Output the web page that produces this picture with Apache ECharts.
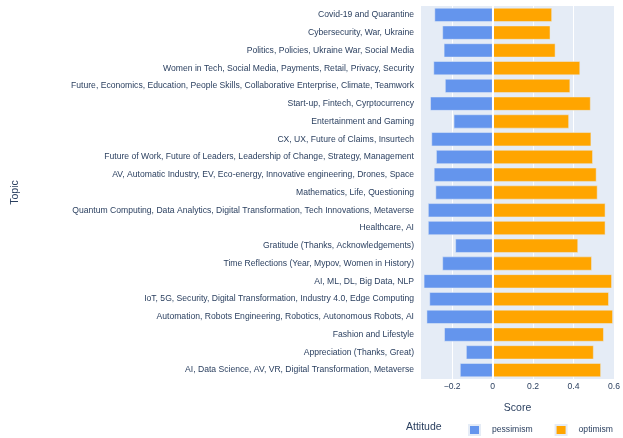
<!DOCTYPE html>
<html>
<head>
<meta charset="utf-8">
<script src="https://cdn.jsdelivr.net/npm/echarts@6/dist/echarts.min.js"></script>
<style>
  html, body { margin: 0; padding: 0; background: #fff; }
  #chart { width: 623px; height: 438px; }
</style>
</head>
<body>
<div id="chart"></div>
<script>
// topics, top to bottom as shown
const topics = [
  'Covid-19 and Quarantine',
  'Cybersecurity, War, Ukraine',
  'Politics, Policies, Ukraine War, Social Media',
  'Women in Tech, Social Media, Payments, Retail, Privacy, Security',
  'Future, Economics, Education, People Skills, Collaborative Enterprise, Climate, Teamwork',
  'Start-up, Fintech, Cyrptocurrency',
  'Entertainment and Gaming',
  'CX, UX, Future of Claims, Insurtech',
  'Future of Work, Future of Leaders, Leadership of Change, Strategy, Management',
  'AV, Automatic Industry, EV, Eco-energy, Innovative engineering, Drones, Space',
  'Mathematics, Life, Questioning',
  'Quantum Computing, Data Analytics, Digital Transformation, Tech Innovations, Metaverse',
  'Healthcare, AI',
  'Gratitude (Thanks, Acknowledgements)',
  'Time Reflections (Year, Mypov, Women in History)',
  'AI, ML, DL, Big Data, NLP',
  'IoT, 5G, Security, Digital Transformation, Industry 4.0, Edge Computing',
  'Automation, Robots Engineering, Robotics, Autonomous Robots, AI',
  'Fashion and Lifestyle',
  'Appreciation (Thanks, Great)',
  'AI, Data Science, AV, VR, Digital Transformation, Metaverse'
]

const pessimism = [
  -0.287, -0.248, -0.241, -0.292, -0.235, -0.308, -0.192, -0.302, -0.279, -0.290, -0.282,
  -0.319, -0.319, -0.184, -0.248, -0.340, -0.312, -0.326, -0.239, -0.131, -0.161
]

const optimism = [
  0.293, 0.285, 0.310, 0.432, 0.383, 0.484, 0.377, 0.487, 0.495, 0.513, 0.518,
  0.557, 0.557, 0.422, 0.490, 0.589, 0.574, 0.594, 0.549, 0.499, 0.535
]

const scoreTicks = [-0.2, 0, 0.2, 0.4, 0.6]

const textColor = '#2a3f5f'
const font = 'Arial, "Liberation Sans", sans-serif'

const chart = echarts.init(document.getElementById('chart'))

const option = {
  animation: false,
  textStyle: { fontFamily: font },
  grid: {
    left: 421,
    top: 6,
    width: 194,
    height: 373,
    show: true,
    backgroundColor: '#E5ECF6',
    borderWidth: 0
  },
  xAxis: {
    type: 'value',
    min: -0.354,
    max: 0.6,
    name: 'Score',
    nameLocation: 'middle',
    nameGap: 24,
    nameTextStyle: { color: textColor, fontSize: 10.5, fontFamily: font },
    axisLine: { show: false },
    axisTick: { show: false, customValues: scoreTicks },
    axisLabel: {
      customValues: scoreTicks,
      color: textColor,
      fontSize: 8.6,
      fontFamily: font,
      margin: 3,
      formatter: v => (v === 0 ? '0' : String(Math.round(v * 10) / 10).replace('-', '\u2212'))
    },
    splitLine: { show: true, lineStyle: { color: '#fff', width: 1 } }
  },
  yAxis: {
    type: 'category',
    data: topics,
    inverse: true,
    name: 'Topic',
    nameLocation: 'middle',
    nameRotate: 90,
    nameGap: 400,
    nameTextStyle: { color: textColor, fontSize: 10.5, fontFamily: font },
    axisLine: { show: false },
    axisTick: { show: false },
    axisLabel: { color: textColor, fontSize: 8.6, fontFamily: font, margin: 7 }
  },
  legend: {
    left: 463,
    top: 419,
    itemWidth: 11,
    itemHeight: 10,
    itemGap: 22,
    icon: 'rect',
    textStyle: { color: textColor, fontSize: 8.6, fontFamily: font, padding: [0, 0, 0, 7] },
    data: ['pessimism', 'optimism']
  },
  graphic: [{
    type: 'text',
    left: 406,
    top: 422,
    style: { text: 'Attitude', fill: textColor, fontSize: 10.5, fontFamily: font }
  }],
  series: [
    {
      name: 'pessimism',
      type: 'bar',
      stack: 'score',
      barCategoryGap: '22%',
      data: pessimism,
      itemStyle: { color: '#6495ED', borderColor: '#E5ECF6', borderWidth: 0.5 },
      markLine: {
        silent: true,
        symbol: 'none',
        label: { show: false },
        lineStyle: { color: '#fff', width: 2, type: 'solid' },
        data: [{ xAxis: 0 }]
      }
    },
    {
      name: 'optimism',
      type: 'bar',
      stack: 'score',
      barCategoryGap: '22%',
      data: optimism,
      itemStyle: { color: '#FFA500', borderColor: '#E5ECF6', borderWidth: 0.5 }
    }
  ]
}

chart.setOption(option)
</script>
</body>
</html>
